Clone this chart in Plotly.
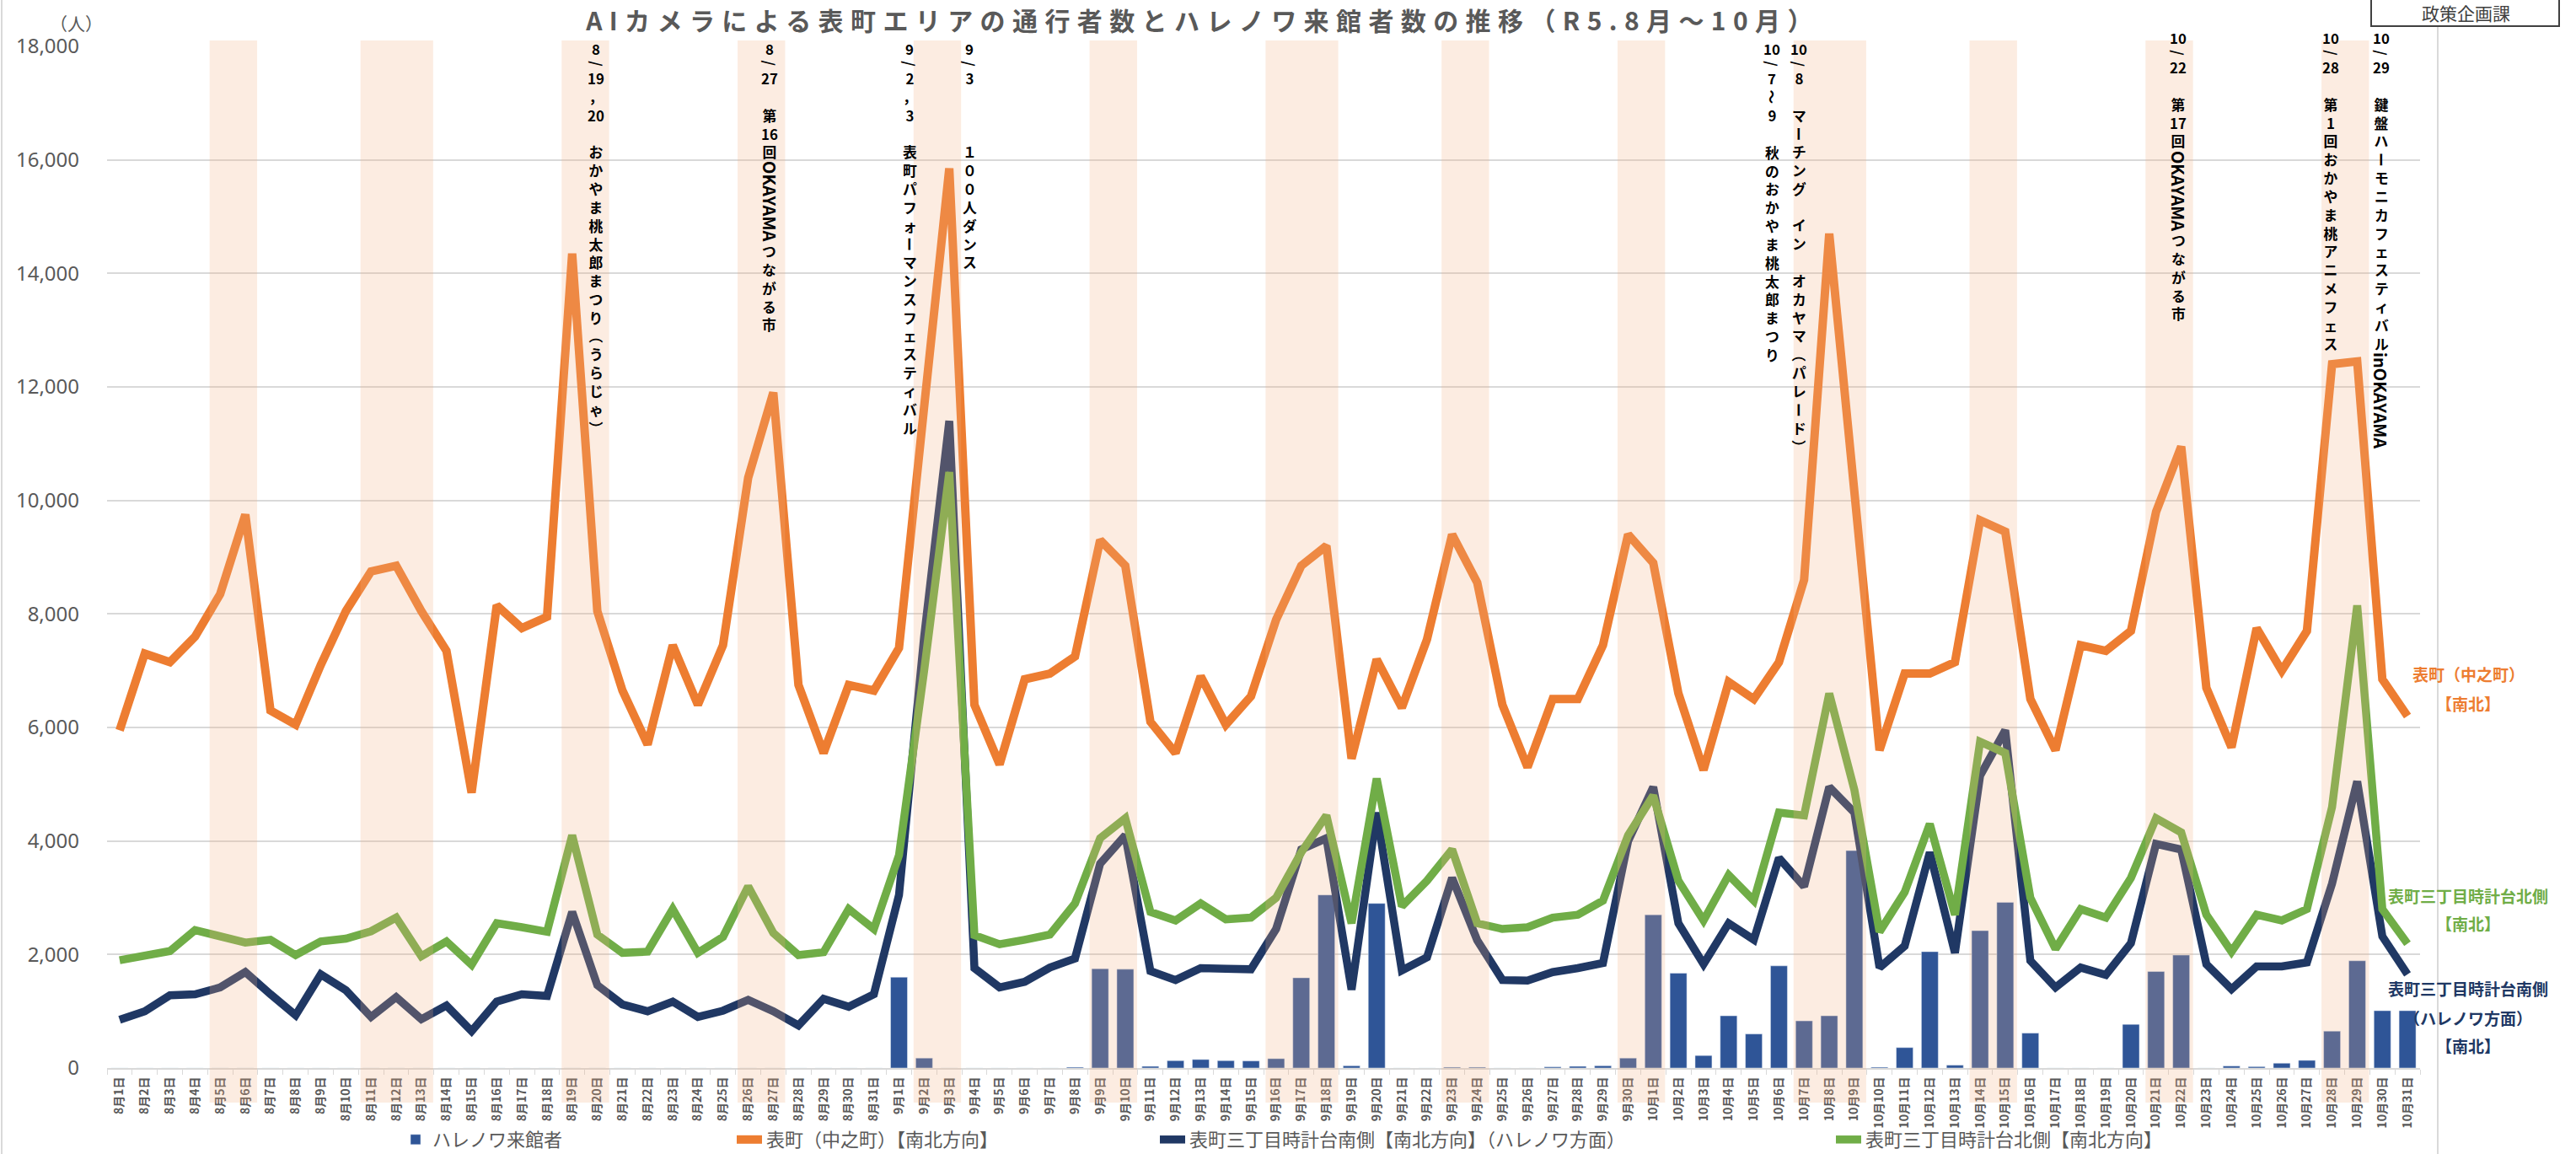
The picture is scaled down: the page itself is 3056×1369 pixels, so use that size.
import plotly.graph_objects as go

# ---------------- data ----------------
aug = [f"8月{d}日" for d in range(1, 32)]
sep = [f"9月{d}日" for d in range(1, 31)]
octo = [f"10月{d}日" for d in range(1, 32)]
dates = aug + sep + octo

hareno = [0, 0, 0, 0, 0, 0, 0, 0, 0, 0, 0, 0, 0, 0, 0, 0, 0, 0, 0, 0, 0, 0, 0, 0, 0, 0, 0, 0, 0, 0, 0,
          1600, 175, 0, 0, 0, 0, 0, 15, 1750, 1740, 30, 130, 150, 130, 125, 165, 1590, 3050, 40, 2900,
          0, 0, 15, 15, 0, 0, 20, 30, 40, 175,
          2700, 1670, 220, 920, 600, 1800, 830, 920, 3830, 15, 360, 2050, 50, 2420, 2920, 615, 0, 0, 0, 770,
          1700, 1990, 0, 35, 25, 85, 135, 650, 1890, 1010, 1010]

nakanocho = [5950, 7300, 7150, 7600, 8350, 9750, 6300, 6050, 7100, 8050, 8750, 8850, 8050, 7350, 4850, 8150,
             7750, 7950, 14350, 8050, 6650, 5700, 7450, 6400, 7450, 10400, 11900, 6750, 5550, 6750, 6650,
             7400, 11650, 15850, 6400, 5350, 6850, 6950, 7250, 9300, 8850, 6100, 5550, 6900, 6050, 6550,
             7900, 8850, 9200, 5450, 7200, 6350, 7550, 9400, 8550, 6400, 5300, 6500, 6500, 7450, 9400,
             8900, 6600, 5250, 6800, 6500, 7150, 8600, 14700, 10200, 5600, 6950, 6950, 7150, 9650, 9450,
             6500, 5600, 7450, 7350, 7700, 9800, 10950, 6700, 5650, 7750, 7000, 7700, 12400, 12450, 6850, 6200]

south = [850, 1000, 1280, 1300, 1420, 1690, 1300, 930, 1650, 1370, 900, 1250, 860, 1100, 650, 1170,
         1300, 1270, 2750, 1460, 1120, 1000, 1170, 900, 1010, 1200, 1000, 750, 1220, 1080, 1300,
         3050, 7600, 11400, 1760, 1420, 1520, 1770, 1930, 3600, 4100, 1710, 1550, 1760, 1750, 1740,
         2450, 3850, 4050, 1380, 4500, 1720, 1950, 3350, 2250, 1550, 1540, 1690, 1760, 1850, 4000,
         4950, 2550, 1830, 2550, 2260, 3700, 3200, 4950, 4500, 1770, 2150, 3800, 2030, 5150, 5950,
         1890, 1420, 1770, 1640, 2200, 3950, 3850, 1830, 1390, 1790, 1790, 1860, 3250, 5050, 2320, 1650]

north = [1900, 1985, 2060, 2430, 2310, 2210, 2260, 1990, 2230, 2280, 2410, 2650, 1970, 2230, 1820, 2550,
         2480, 2400, 4100, 2350, 2030, 2050, 2800, 2030, 2310, 3200, 2380, 1990, 2040, 2800, 2450,
         3750, 7000, 10500, 2340, 2180, 2260, 2350, 2900, 4050, 4400, 2750, 2600, 2900, 2620, 2650,
         3000, 3800, 4450, 2550, 5100, 2850, 3300, 3850, 2550, 2450, 2480, 2650, 2700, 2950, 4100,
         4800, 3300, 2600, 3400, 2950, 4500, 4450, 6600, 4900, 2400, 3100, 4300, 2700, 5750, 5550,
         3000, 2100, 2800, 2650, 3350, 4400, 4150, 2700, 2050, 2700, 2600, 2800, 4600, 8150, 2800, 2190]

y_ticks = [0, 2000, 4000, 6000, 8000, 10000, 12000, 14000, 16000, 18000]

# shaded event periods (first day, last day)
band_ranges = [("8月5日", "8月6日"), ("8月11日", "8月13日"), ("8月19日", "8月20日"), ("8月26日", "8月27日"),
               ("9月2日", "9月3日"), ("9月9日", "9月10日"), ("9月16日", "9月18日"), ("9月23日", "9月24日"),
               ("9月30日", "10月1日"), ("10月7日", "10月9日"), ("10月14日", "10月15日"),
               ("10月21日", "10月22日"), ("10月28日", "10月29日")]

event_texts = ["8/19，20 おかやま桃太郎まつり（うらじゃ）",
               "8/27 第16回OKAYAMAつながる市",
               "9/2，3 表町パフォーマンスフェスティバル",
               "9/3　　　１００人ダンス",
               "10/7～9 秋のおかやま桃太郎まつり",
               "10/8 マーチング　イン　オカヤマ（パレード）",
               "10/22 第17回OKAYAMAつながる市",
               "10/28 第1回おかやま桃アニメフェス",
               "10/29 鍵盤ハーモニカフェスティバルinOKAYAMA"]

names = ["ハレノワ来館者", "表町（中之町）【南北方向】",
         "表町三丁目時計台南側【南北方向】（ハレノワ方面）", "表町三丁目時計台北側【南北方向】"]

# ---------------- geometry / style ----------------
W, H = 3056, 1369
L, R, T, B = 127, 185, 55, 102
PW, PH = W - L - R, H - T - B

def py(p):
    return (H - B - p) / PH

def px(p):
    return (p - L) / PW

CJK = "Noto Sans CJK JP"
ORANGE, NAVY, GREEN, BLUE = "#ED7D31", "#203864", "#70AD47", "#2F5597"
GRAY = "#595959"

fig = go.Figure()
fig.add_trace(go.Bar(x=dates, y=hareno, name=names[0], marker_color=BLUE, legend="legend"))
fig.add_trace(go.Scatter(x=dates, y=nakanocho, name=names[1], mode="lines",
                         line=dict(color=ORANGE, width=10), legend="legend2"))
fig.add_trace(go.Scatter(x=dates, y=south, name=names[2], mode="lines",
                         line=dict(color=NAVY, width=9.5), legend="legend3"))
fig.add_trace(go.Scatter(x=dates, y=north, name=names[3], mode="lines",
                         line=dict(color=GREEN, width=9.5), legend="legend4"))

shapes = []
idx = {d: i for i, d in enumerate(dates)}
for a, b in band_ranges:
    shapes.append(dict(type="rect", xref="x", yref="paper", x0=idx[a] - 0.42, x1=idx[b] + 0.47,
                       y0=py(1308), y1=py(48), fillcolor="rgba(244,177,131,0.24)",
                       line=dict(width=0), layer="above"))
# chart frame lines
shapes.append(dict(type="line", xref="paper", yref="paper", x0=px(2), x1=px(2), y0=py(0), y1=py(H),
                   line=dict(color="#d9d9d9", width=2)))
shapes.append(dict(type="line", xref="paper", yref="paper", x0=px(2892), x1=px(2892), y0=py(0), y1=py(H),
                   line=dict(color="#d9d9d9", width=2)))
# department box
shapes.append(dict(type="rect", xref="paper", yref="paper", x0=px(2813), x1=px(3036), y0=py(31), y1=py(-3),
                   fillcolor="white", line=dict(color="#404040", width=2), layer="above"))

annotations = []
FS = 16.8
PITCH = 1.3 * FS
ev_font = dict(family=CJK, size=FS, color="black", weight="bold")

def latin_len(run):
    wd = {"i": 0.28, "n": 0.6}
    return sum(wd.get(ch, 0.66) for ch in run) * 20

def tokenize(s):
    out = []
    i = 0
    while i < len(s):
        c = s[i]
        if c.isascii() and c.isdigit():
            j = i
            while j < len(s) and s[j].isascii() and s[j].isdigit():
                j += 1
            out.append((s[i:j], "up", 1.0))
            i = j
            continue
        if c.isascii() and c.isalpha():
            j = i
            while j < len(s) and s[j].isascii() and s[j].isalpha():
                j += 1
            run = s[i:j]
            out.append((run, "rot", latin_len(run) / PITCH + 0.15))
            i = j
            continue
        if c == "/":
            out.append((c, "rot", 0.6))
        elif c in " 　":
            out.append(("　", "up", 1.0))
        elif c in "ー（）～":
            out.append((c, "rot", 1.0))
        else:
            out.append((c, "up", 1.0))
        i += 1
    return out

event_cols = [18.95, 25.85, 31.42, 33.8, 65.72, 66.79, 81.88, 87.95, 89.96]
event_tops = [47, 47, 47, 47, 47, 47, 34, 34, 34]
for text, col, top in zip(event_texts, event_cols, event_tops):
    cum = top
    placed = []
    for tok, kind, w in tokenize(text):
        h = w * PITCH
        placed.append((tok, kind, cum + h / 2))
        cum += h
    # group consecutive upright tokens into one stacked text
    groups = []
    for tok, kind, cy in placed:
        if kind == "up" and groups and groups[-1][0] == "up":
            groups[-1][1].append((tok, cy))
        else:
            groups.append([kind, [(tok, cy)]])
    for kind, items in groups:
        if kind == "up":
            while items and items[-1][0] == "　":
                items = items[:-1]
            if not items:
                continue
            txt = "<br>".join(t for t, _ in items)
            cy = (items[0][1] + items[-1][1]) / 2
            annotations.append(dict(x=col, xref="x", y=py(cy), yref="paper", text=txt, showarrow=False,
                                    xanchor="center", yanchor="middle", align="center", font=ev_font))
        else:
            tok, cy = items[0]
            fsz = 20 if tok.isascii() and tok.isalpha() else FS
            annotations.append(dict(x=col, xref="x", y=py(cy), yref="paper", text=tok, showarrow=False,
                                    xanchor="center", yanchor="middle", textangle=90,
                                    font=dict(family=CJK, size=fsz, color="black", weight="bold")))

# series end labels
end_labels = [("表町（中之町）", 799, ORANGE), ("【南北】", 834, ORANGE),
              ("表町三丁目時計台北側", 1062, GREEN), ("【南北】", 1095, GREEN),
              ("表町三丁目時計台南側", 1172, NAVY), ("（ハレノワ方面）", 1207, NAVY), ("【南北】", 1240, NAVY)]
for t, yy, c in end_labels:
    annotations.append(dict(x=px(2928), xref="paper", y=py(yy), yref="paper", text=t, showarrow=False,
                            xanchor="center", yanchor="middle",
                            font=dict(family=CJK, size=19, color=c, weight="bold")))

annotations.append(dict(x=px(90), xref="paper", y=py(27), yref="paper", text="（人）", showarrow=False,
                        xanchor="center", yanchor="middle", font=dict(family=CJK, size=21, color=GRAY)))
annotations.append(dict(x=px(2925), xref="paper", y=py(15), yref="paper", text="政策企画課", showarrow=False,
                        xanchor="center", yanchor="middle", font=dict(family=CJK, size=21, color="#404040")))

leg_font = dict(family=CJK, size=22, color=GRAY)
def leg(xpix):
    return dict(orientation="h", xref="container", yref="container", x=xpix / W, y=1 - 1352 / H,
                xanchor="left", yanchor="middle", font=leg_font, bgcolor="rgba(0,0,0,0)",
                borderwidth=0)

fig.update_layout(
    width=W, height=H,
    margin=dict(l=L, r=R, t=T, b=B, autoexpand=False),
    paper_bgcolor="white", plot_bgcolor="white",
    bargap=0.33,
    showlegend=True,
    legend=leg(473), legend2=leg(869), legend3=leg(1371), legend4=leg(2173),
    title=dict(text="<b>AIカメラによる表町エリアの通行者数とハレノワ来館者数の推移（R5.8月～10月）</b>",
               x=1427 / W, xref="container", xanchor="center",
               y=1 - 25.8 / H, yref="container", yanchor="middle",
               font=dict(family=CJK, size=30, color=GRAY)),
    xaxis=dict(type="category", categoryorder="array", categoryarray=dates,
               tickangle=-90, tickfont=dict(family=CJK, size=14, color=GRAY, weight="bold"),
               showline=True, linecolor="#d9d9d9", linewidth=2, showgrid=False,
               ticks="outside", tickson="boundaries", ticklen=6, tickcolor="#d9d9d9", tickwidth=1,
               ticklabelstandoff=3, fixedrange=True),
    yaxis=dict(range=[0, 18000], tickvals=y_ticks, tickformat=",", showgrid=True,
               gridcolor="#d9d9d9", gridwidth=2, zeroline=False, showline=False,
               tickfont=dict(family="Noto Sans", size=24, color=GRAY), ticklabelstandoff=32,
               fixedrange=True),
    shapes=shapes,
    annotations=annotations,
)

post = ("document.body.style.margin='0';document.body.style.overflow='hidden';"
        "(function(){var gd=document.getElementById('{plot_id}');"
        "function ls(){gd.querySelectorAll('.gtitle').forEach(function(e){e.style.letterSpacing='8.4px';});}"
        "ls();if(gd.on){gd.on('plotly_afterplot',ls);}})();")
fig.write_html("out.html", config={"displayModeBar": False, "staticPlot": True}, post_script=post)
